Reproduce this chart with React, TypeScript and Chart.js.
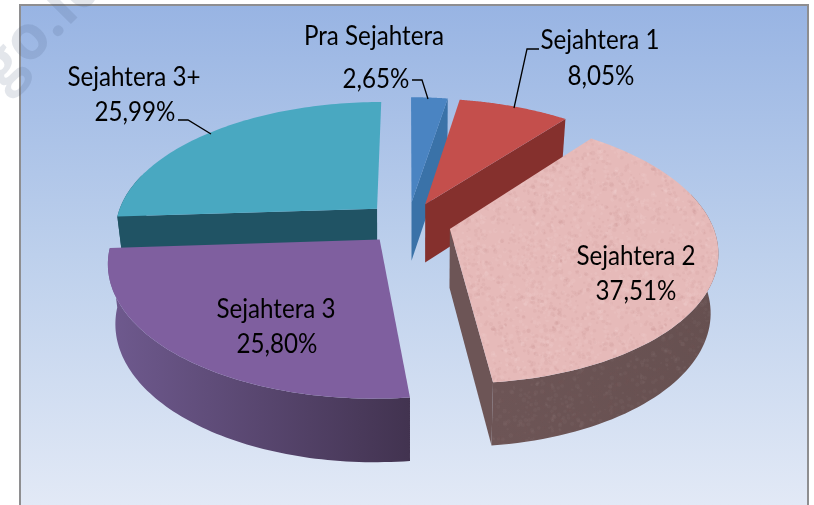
import React, { useEffect, useRef } from "react";
import { Chart, registerables } from "chart.js";

Chart.register(...registerables);

const categories = ["Pra Sejahtera", "Sejahtera 1", "Sejahtera 2", "Sejahtera 3", "Sejahtera 3+"];
const shares = [2.65, 8.05, 37.51, 25.8, 25.99];
const topColors = ["#4a84c2", "#c44f4c", "#e6bab9", "#7f5f9f", "#49a8c1"];
const sideLeftColors = ["#3a72a8", "#85302d", "#6d5556", "#6f5a8f", "#205364"];
const sideRightColors = ["#3a72a8", "#7c2c2a", "#665050", "#423350", "#205364"];
// back-to-front painting order of the slices
const paintOrder = [4, 0, 1, 3, 2];

const W = 814;
const H = 505;
const CX = 408;
const CY = 223;
const SX = 262;
const SY = 128;
const PERSP = 0.159;
const EXPLODE = 0.165;
const SHRINK = 0.975;

const project = (x: number, y: number) => {
  const w = 1 - PERSP * y;
  return { x: CX + (SX * x) / w, y: CY + (SY * y) / w };
};
const dropDown = (p: { x: number; y: number }) => {
  const dx = p.x - CX;
  return {
    x: p.x - dx * (1 - SHRINK) * Math.min(1, Math.abs(dx) / 120),
    y: p.y + 56 + (p.y - 118) * 0.027,
  };
};

const labelBoxes = [
  { x: 374, y: 37, y2: 80, x2: 376 },
  { x: 600, y: 41, y2: 77, x2: 601 },
  { x: 636, y: 257, y2: 292, x2: 636 },
  { x: 276, y: 310, y2: 345, x2: 277 },
  { x: 134, y: 78, y2: 113, x2: 135 },
];
const leaderPaths: (number[][] | null)[] = [
  [[412, 80], [422, 80], [428, 99]],
  [[539, 49], [527, 49], [514, 108]],
  null,
  null,
  [[178, 120], [188, 120], [211, 134]],
];

const makeTexture = () => {
  const c = document.createElement("canvas");
  c.width = 160;
  c.height = 160;
  const g = c.getContext("2d")!;
  const hash = (n: number) => {
    const s = Math.sin(n * 12.9898) * 43758.5453;
    return s - Math.floor(s);
  };
  for (let i = 0; i < 1400; i++) {
    const x = hash(i + 1) * 160;
    const y = hash(i + 2000) * 160;
    const r = 0.8 + hash(i + 4000) * 1.6;
    g.fillStyle = hash(i + 6000) > 0.5 ? "rgba(255,240,240,0.07)" : "rgba(150,90,90,0.06)";
    g.beginPath();
    g.arc(x, y, r, 0, Math.PI * 2);
    g.fill();
  }
  return c;
};

const pie3d = {
  id: "pie3d",
  beforeDraw(chart: any) {
    const ctx: CanvasRenderingContext2D = chart.ctx;
    ctx.save();
    ctx.fillStyle = "#ffffff";
    ctx.fillRect(0, 0, W, H);
    const g = ctx.createLinearGradient(0, 5, 0, H);
    g.addColorStop(0, "#98b4e3");
    g.addColorStop(0.5, "#bdd0ec");
    g.addColorStop(1, "#e2e9f6");
    ctx.fillStyle = g;
    ctx.fillRect(20, 5, 788, H);
    ctx.strokeStyle = "#8e8e90";
    ctx.lineWidth = 2;
    ctx.strokeRect(20, 5, 788, H + 10);
    ctx.restore();
  },
  beforeDatasetDraw(chart: any) {
    const ctx: CanvasRenderingContext2D = chart.ctx;
    const meta = chart.getDatasetMeta(0);
    const texture = ctx.createPattern(makeTexture(), "repeat")!;
    for (const i of paintOrder) {
      const arc = meta.data[i];
      const { startAngle, endAngle } = arc.getProps(["startAngle", "endAngle"], true);
      const mid = (startAngle + endAngle) / 2;
      const ox = Math.cos(mid) * EXPLODE;
      const oy = Math.sin(mid) * EXPLODE;
      const apex = project(ox, oy);
      const rim: { x: number; y: number }[] = [];
      const outer: { x: number; y: number }[] = [];
      const steps = 80;
      for (let s = 0; s <= steps; s++) {
        const a = startAngle + ((endAngle - startAngle) * s) / steps;
        const p = project(ox + Math.cos(a), oy + Math.sin(a));
        rim.push(p);
        if (Math.sin(a) > -0.3) outer.push(p);
      }
      const poly = (pts: { x: number; y: number }[], fill: any, alpha = 1) => {
        ctx.beginPath();
        pts.forEach((p, k) => (k ? ctx.lineTo(p.x, p.y) : ctx.moveTo(p.x, p.y)));
        ctx.closePath();
        ctx.globalAlpha = alpha;
        ctx.fillStyle = fill;
        ctx.fill();
        ctx.globalAlpha = 1;
      };
      const apexLow = dropDown(apex);
      const first = rim[0];
      const last = rim[rim.length - 1];
      // radial walls, only those that face the viewer
      if (-Math.cos(startAngle) > 0.02) poly([apex, first, dropDown(first), apexLow], sideLeftColors[i]);
      if (Math.cos(endAngle) > 0.02) poly([apex, last, dropDown(last), apexLow], sideLeftColors[i]);
      // outer wall with shading
      if (outer.length > 1) {
        const xs = outer.map((p) => p.x);
        const grad = ctx.createLinearGradient(Math.min(...xs), 0, Math.max(...xs), 0);
        grad.addColorStop(0, sideLeftColors[i]);
        grad.addColorStop(1, sideRightColors[i]);
        const wall = [...outer, ...outer.map(dropDown).reverse()];
        poly(wall, grad);
        if (i === 2) poly(wall, texture, 0.4);
      }
      // top face
      poly([apex, ...rim], arc.options.backgroundColor);
      if (i === 2) poly([apex, ...rim], texture);
    }
    return false;
  },
  afterDraw(chart: any) {
    const ctx: CanvasRenderingContext2D = chart.ctx;
    ctx.save();
    ctx.fillStyle = "#000000";
    ctx.textAlign = "center";
    ctx.textBaseline = "middle";
    ctx.font = "26px Lato, 'Open Sans', sans-serif";
    categories.forEach((name, i) => {
      const b = labelBoxes[i];
      const pct = shares[i].toFixed(2).replace(".", ",") + "%";
      const put = (t: string, x: number, y: number) => {
        ctx.save();
        ctx.translate(x, y);
        ctx.scale(0.93, 1);
        ctx.fillText(t, 0, 0);
        ctx.restore();
      };
      put(name, b.x, b.y);
      put(pct, b.x2, b.y2);
      const path = leaderPaths[i];
      if (path) {
        ctx.beginPath();
        path.forEach((p, k) => (k ? ctx.lineTo(p[0], p[1]) : ctx.moveTo(p[0], p[1])));
        ctx.strokeStyle = "#000000";
        ctx.lineWidth = 1.3;
        ctx.stroke();
      }
    });
    ctx.restore();
    // watermark of the source page
    ctx.save();
    ctx.translate(3, 92);
    ctx.rotate(-Math.PI / 4);
    ctx.font = "bold 62px 'Open Sans', sans-serif";
    ctx.textAlign = "left";
    ctx.textBaseline = "alphabetic";
    ctx.fillStyle = "rgba(70,85,120,0.15)";
    ctx.fillText("go.id", 0, 0);
    ctx.restore();
  },
};

export default function App() {
  const ref = useRef<HTMLCanvasElement>(null);
  useEffect(() => {
    document.body.style.margin = "0";
    const chart = new Chart(ref.current!, {
      type: "pie",
      data: {
        labels: categories,
        datasets: [{ data: shares, backgroundColor: topColors, borderWidth: 0 }],
      },
      options: {
        responsive: false,
        animation: false,
        rotation: 0,
        plugins: { legend: { display: false }, tooltip: { enabled: false } },
      },
      plugins: [pie3d],
    } as any);
    return () => chart.destroy();
  }, []);
  return <canvas ref={ref} width={W} height={H} style={{ display: "block" }} />;
}
